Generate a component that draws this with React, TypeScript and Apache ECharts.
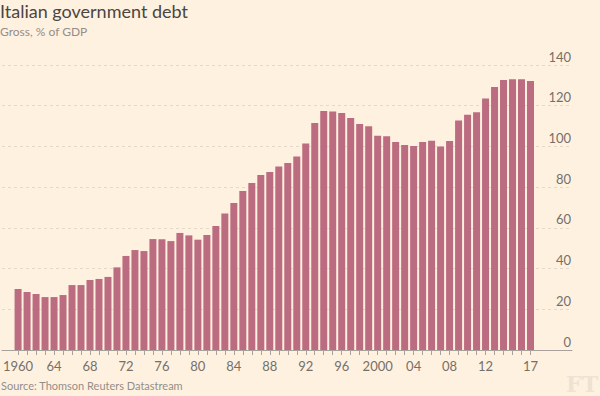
import React, { useEffect, useRef } from "react";
import * as echarts from "echarts";

const years = [
  "1960","1961","1962","1963","1964","1965","1966","1967","1968","1969",
  "1970","1971","1972","1973","1974","1975","1976","1977","1978","1979",
  "1980","1981","1982","1983","1984","1985","1986","1987","1988","1989",
  "1990","1991","1992","1993","1994","1995","1996","1997","1998","1999",
  "2000","2001","2002","2003","2004","2005","2006","2007","2008","2009",
  "2010","2011","2012","2013","2014","2015","2016","2017",
];

const debt = [
  30.0, 28.5, 27.5, 26.0, 26.0, 27.0, 31.9, 31.9, 34.4, 34.9,
  35.9, 40.6, 46.2, 49.1, 48.6, 54.5, 54.4, 53.5, 57.5, 56.3,
  54.2, 56.5, 60.9, 67.0, 72.2, 78.1, 82.0, 86.0, 87.4, 90.1,
  91.9, 95.1, 101.5, 111.5, 117.4, 117.1, 116.4, 114.0, 111.0, 109.9,
  105.3, 105.0, 102.2, 100.7, 100.2, 102.2, 102.8, 100.0, 102.7, 112.7,
  115.6, 116.8, 123.5, 129.2, 132.6, 133.0, 133.0, 132.1,
];

const xTickYears = ["1960","1964","1968","1972","1976","1980","1984","1988","1992","1996","2000","2004","2008","2012","2017"];
const xTickLabels = ["1960","64","68","72","76","80","84","88","92","96","2000","04","08","12","17"];

const TITLE = "Italian government debt";
const SUBTITLE = "Gross, % of GDP";
const SOURCE = "Source: Thomson Reuters Datastream";

export default function App() {
  const ref = useRef<HTMLDivElement>(null);
  useEffect(() => {
    if (!ref.current) return;
    const chart = echarts.init(ref.current, null, { renderer: "svg" });
    const font = "Lato, 'Open Sans', sans-serif";
    chart.setOption({
      animation: false,
      backgroundColor: "#fff1e0",
      textStyle: { fontFamily: font },
      title: {
        text: TITLE,
        subtext: SUBTITLE,
        left: 0,
        top: 2,
        padding: 0,
        itemGap: 5,
        textStyle: { fontFamily: font, fontSize: 18, fontWeight: "normal", color: "#4a4643" },
        subtextStyle: { fontFamily: font, fontSize: 12, color: "#948e88" },
      },
      grid: [
        { left: 2, right: 28, top: 65, bottom: 46 },
        { left: 13, right: 65, top: 65, bottom: 46 },
      ],
      xAxis: [
        {
          gridIndex: 0,
          type: "value",
          min: 0,
          max: 1,
          axisLine: { show: true, lineStyle: { color: "#a9a29c", width: 1 } },
          axisTick: { show: false },
          axisLabel: { show: false },
          splitLine: { show: false },
        },
        {
          gridIndex: 1,
          type: "category",
          data: years,
          axisLine: { show: false },
          axisTick: {
            show: true,
            alignWithLabel: true,
            interval: 0,
            length: 5,
            lineStyle: { color: "#a9a29c" },
          },
          axisLabel: {
            interval: (idx: number, value: string) => xTickYears.includes(value),
            formatter: (value: string) => xTickLabels[xTickYears.indexOf(value)] ?? "",
            color: "#747069",
            fontSize: 13,
            fontFamily: font,
            margin: 9,
          },
        },
      ],
      yAxis: [
        {
          gridIndex: 0,
          type: "value",
          position: "right",
          min: 0,
          max: 140,
          interval: 20,
          axisLine: { show: false },
          axisTick: { show: false },
          axisLabel: {
            inside: true,
            margin: 1,
            align: "right",
            verticalAlign: "bottom",
            padding: [0, 0, 2, 0],
            color: "#747069",
            fontSize: 13,
            fontFamily: font,
          },
          splitLine: { show: true, lineStyle: { color: "#e3d8c9", type: [3, 3], width: 1 } },
        },
        {
          gridIndex: 1,
          type: "value",
          min: 0,
          max: 140,
          show: false,
          splitLine: { show: false },
        },
      ],
      series: [
        {
          type: "bar",
          xAxisIndex: 1,
          yAxisIndex: 1,
          data: debt,
          barWidth: 7,
          itemStyle: { color: "#bc6c80" },
        },
      ],
      graphic: [
        {
          type: "text",
          left: 1,
          top: 380,
          style: { text: SOURCE, fontFamily: font, fontSize: 11, fill: "#948e88" },
        },
        {
          type: "text",
          right: 2,
          top: 373,
          style: {
            text: "FT",
            fontFamily: "'DejaVu Serif', 'Liberation Serif', serif",
            fontSize: 22,
            fontWeight: "bold",
            fill: "#ede2d3",
          },
        },
      ],
    });
    return () => chart.dispose();
  }, []);
  return <div ref={ref} style={{ position: "fixed", left: 0, top: 0, width: 600, height: 396 }} />;
}
